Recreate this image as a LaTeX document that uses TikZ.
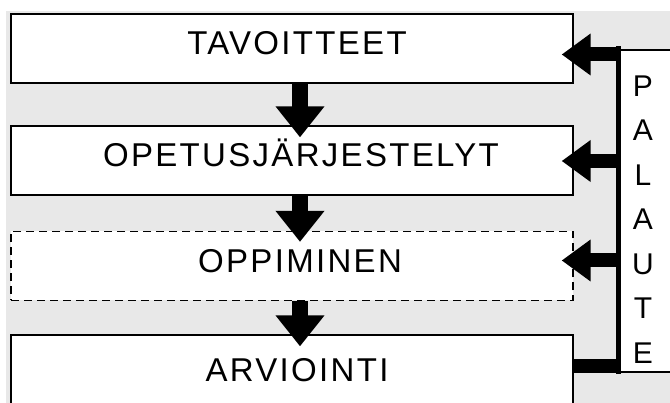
\documentclass[tikz,border=0pt]{standalone}
\usepackage{fontspec}
\setmainfont{Liberation Sans}
\newfontfamily\boxfont[LetterSpace=7]{Liberation Sans}
\usetikzlibrary{arrows.meta,calc}
\definecolor{bggray}{RGB}{232,232,232}
\begin{document}
\begin{tikzpicture}[x=1pt,y=-1pt,
  box/.style={draw=black, line width=1.3pt, fill=white, minimum width=562pt,
    minimum height=69pt, inner sep=0pt, font=\boxfont\fontsize{33}{33}\selectfont,
    text height=25pt, text depth=12pt},
  dbox/.style={box, dash pattern=on 8pt off 5pt},
  downarr/.style={line width=15.5pt, -{Triangle[width=47pt,length=31pt]}},
  fbarr/.style={line width=14pt, -{Triangle[width=40pt,length=29pt]}},
  fbline/.style={line width=5pt},
  fbletter/.style={font=\fontsize{30}{30}\selectfont, inner sep=0pt}
]
\useasboundingbox (0,0) rectangle (670,403);
\clip (0,0) rectangle (670,403);
\fill[bggray] (6,11) rectangle (672,405);

\node[box]  (b1) at (292,48.5) {\hspace*{10pt}TAVOITTEET};
\node[box]  (b2) at (292,160.5) {\hspace*{18pt}OPETUSJÄRJESTELYT};
\node[dbox] (b3) at (292,266) {\hspace*{16pt}OPPIMINEN};
\node[box, minimum height=80pt] (b4) at (292,375) {\hspace*{10pt}ARVIOINTI};

\coordinate (ax) at (300,0);
\draw[downarr] (b1.south -| ax) -- ($(b2.north -| ax)+(0,12)$);
\draw[downarr] (b2.south -| ax) -- ($(b3.north -| ax)+(0,11)$);
\draw[downarr] (b3.south -| ax) -- ($(b4.north -| ax)+(0,12)$);

\node[draw=black, line width=1.3pt, fill=white, minimum width=71pt, minimum height=322pt,
  inner sep=0pt] (fb) at (655,211) {};
\node[fbletter] (l1) at (643,86) {P};
\node[fbletter] (l2) at (643,130.5) {A};
\node[fbletter] (l3) at (643,175) {L};
\node[fbletter] (l4) at (643,219.5) {A};
\node[fbletter] (l5) at (643,264) {U};
\node[fbletter] (l6) at (643,308.5) {T};
\node[fbletter] (l7) at (643,353) {E};

\coordinate (bar) at (619.5,366);
\draw[line width=13.5pt] (b4.east |- bar) -- (bar);
\draw[fbline] ($(fb.north west)+(0,-3)$) -- ($(fb.south west)+(0,1)$);

\coordinate (f1) at (619.5,54.5);
\coordinate (f2) at (619.5,161);
\coordinate (f3) at (619.5,260.5);
\draw[fbarr] (f1) -- ($(f1 -| b1.east)+(-12,0)$);
\draw[fbarr] (f2) -- ($(f2 -| b2.east)+(-12,0)$);
\draw[fbarr] (f3) -- ($(f3 -| b3.east)+(-12,0)$);
\end{tikzpicture}
\end{document}
